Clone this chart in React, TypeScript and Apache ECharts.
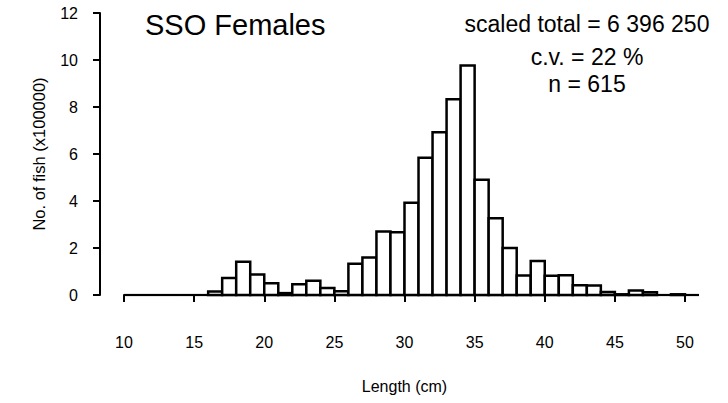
import React, { useEffect, useRef } from "react";
import * as echarts from "echarts";

// Length bins (lower bound, cm); each bin is 1 cm wide
const binStarts: number[] = [
  10, 11, 12, 13, 14, 15, 16, 17, 18, 19,
  20, 21, 22, 23, 24, 25, 26, 27, 28, 29,
  30, 31, 32, 33, 34, 35, 36, 37, 38, 39,
  40, 41, 42, 43, 44, 45, 46, 47, 48, 49, 50,
];
// No. of fish (x100000)
const fishCounts: number[] = [
  0, 0, 0, 0, 0, 0, 0.15, 0.72, 1.42, 0.87,
  0.5, 0.08, 0.46, 0.61, 0.3, 0.16, 1.33, 1.6, 2.7, 2.67,
  3.93, 5.84, 6.93, 8.33, 9.77, 4.9, 3.27, 2.0, 0.83, 1.45,
  0.82, 0.84, 0.42, 0.4, 0.13, 0.03, 0.19, 0.12, 0, 0.03, 0,
];
const BIN_WIDTH = 1;

const titleText = "SSO Females";
const statLines: string[] = ["scaled total = 6 396 250", "c.v. = 22 %", "n = 615"];

const FONT = "'Liberation Sans', Arial, Helvetica, sans-serif";

export default function App() {
  const ref = useRef<HTMLDivElement>(null);

  useEffect(() => {
    if (!ref.current) return;
    const chart = echarts.init(ref.current, undefined, { renderer: "svg" });
    const data = binStarts.map((b, i) => [b, fishCounts[i]]);

    chart.setOption({
      animation: false,
      backgroundColor: "#fff",
      textStyle: { fontFamily: FONT },
      grid: { left: 124, right: 43, top: 13, bottom: 108 },
      xAxis: {
        type: "value",
        min: 10,
        max: 50,
        interval: 5,
        offset: 11,
        axisLine: { show: true, lineStyle: { color: "#000", width: 2 } },
        axisTick: { show: true, length: 7, lineStyle: { color: "#000", width: 2 } },
        axisLabel: { margin: 28, fontSize: 16, color: "#000", fontFamily: FONT },
        splitLine: { show: false },
        name: "Length (cm)",
        nameLocation: "middle",
        nameGap: 72,
        nameTextStyle: { fontSize: 16, color: "#000", fontFamily: FONT },
      },
      yAxis: {
        type: "value",
        min: 0,
        max: 12,
        interval: 2,
        offset: 24,
        position: "left",
        axisLine: { show: true, lineStyle: { color: "#000", width: 2 } },
        axisTick: { show: true, length: 7, lineStyle: { color: "#000", width: 2 } },
        axisLabel: { margin: 22, fontSize: 16, color: "#000", fontFamily: FONT },
        splitLine: { show: false },
        name: "No. of fish (x100000)",
        nameLocation: "middle",
        nameGap: 53,
        nameTextStyle: { fontSize: 16.5, color: "#000", fontFamily: FONT },
      },
      series: [
        {
          type: "custom",
          clip: false,
          data,
          encode: { x: 0, y: 1 },
          renderItem: (params: any, api: any) => {
            const x0 = api.value(0);
            const v = api.value(1);
            const pBase0 = api.coord([x0, 0]);
            const pBase1 = api.coord([x0 + BIN_WIDTH, 0]);
            const pTop = api.coord([x0 + BIN_WIDTH, v]);
            const children: any[] = [
              {
                type: "line",
                shape: { x1: pBase0[0], y1: pBase0[1], x2: pBase1[0], y2: pBase1[1] },
                style: { stroke: "#000", lineWidth: 2.2 },
              },
            ];
            if (v > 0) {
              children.push({
                type: "rect",
                shape: {
                  x: pBase0[0],
                  y: pTop[1],
                  width: pBase1[0] - pBase0[0],
                  height: pBase0[1] - pTop[1],
                },
                style: { fill: "#fff", stroke: "#000", lineWidth: 2.5 },
              });
            }
            return { type: "group", children };
          },
        },
      ],
      graphic: [
        {
          type: "text",
          x: 145,
          y: 25,
          style: {
            text: titleText,
            font: `29px ${FONT}`,
            fill: "#000",
            align: "left",
            verticalAlign: "middle",
          },
        },
        ...statLines.map((t, i) => ({
          type: "text",
          x: 587,
          y: [24, 57, 84][i],
          style: {
            text: t,
            font: `23px ${FONT}`,
            fill: "#000",
            align: "center",
            verticalAlign: "middle",
          },
        })),
      ],
    });

    return () => chart.dispose();
  }, []);

  return (
    <div
      ref={ref}
      style={{ position: "fixed", left: 0, top: 0, width: 728, height: 403, background: "#fff" }}
    />
  );
}
